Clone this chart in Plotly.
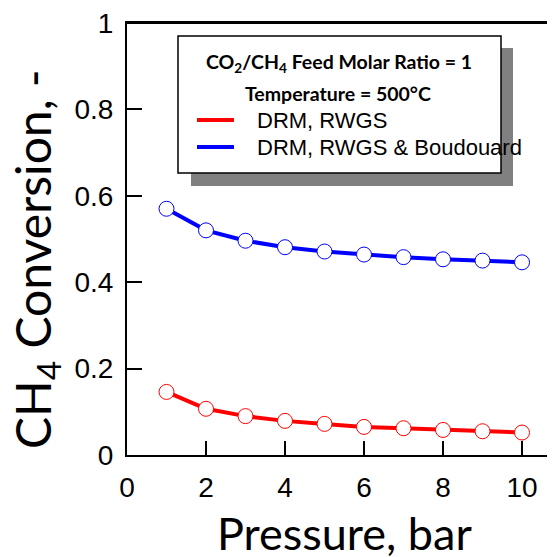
import plotly.graph_objects as go

# ---- data ----
pressure = [1, 2, 3, 4, 5, 6, 7, 8, 9, 10]
conv_drm_rwgs = [0.146, 0.107, 0.090, 0.079, 0.072, 0.065, 0.062, 0.058, 0.055, 0.052]
conv_drm_rwgs_boud = [0.570, 0.520, 0.496, 0.481, 0.471, 0.464, 0.458, 0.453, 0.450, 0.446]
x_ticks = [0, 2, 4, 6, 8, 10]
y_ticks = [0, 0.2, 0.4, 0.6, 0.8, 1]
y_ticktext = ["0", "0.2", "0.4", "0.6", "0.8", "1"]
series_names = ["DRM, RWGS", "DRM, RWGS & Boudouard"]
series_colors = ["#ff0000", "#0000ff"]

# page has an 8px body margin; figure sized to fit the window
OFF = 8
W, H = 555 - OFF, 557 - OFF
# plot area in page pixels: left 127, right 555, top 23, bottom 455
L, R, T, B = 127 - OFF, 0, 23 - OFF, H - (455 - OFF)
PW, PH = W - L - R, H - T - B


def px(xp):  # page pixel x -> paper
    return (xp - OFF - L) / PW


def py(yp):  # page pixel y -> paper
    return (H - B - (yp - OFF)) / PH


fig = go.Figure()
for vals, name, col in zip([conv_drm_rwgs, conv_drm_rwgs_boud], series_names, series_colors):
    fig.add_trace(go.Scatter(
        x=pressure, y=vals, name=name, mode="lines+markers",
        line=dict(color=col, width=4),
        marker=dict(symbol="circle", size=15, color="white", line=dict(color=col, width=1)),
        showlegend=False,
    ))

tick_font = dict(family="Liberation Sans, Arial", size=28, color="black")
fig.update_xaxes(
    range=[0, 10.835], tickvals=x_ticks, ticks="inside", ticklen=14, tickwidth=2,
    tickcolor="black", showline=True, linewidth=2, linecolor="black", mirror=True,
    showgrid=False, zeroline=False, tickfont=tick_font, ticklabelstandoff=6, automargin=False,
    ticklabeloverflow="allow",
)
fig.update_yaxes(
    range=[0, 1], tickvals=y_ticks, ticktext=y_ticktext, ticks="inside", ticklen=15, tickwidth=2,
    tickcolor="black", showline=True, linewidth=2, linecolor="black", mirror=False,
    showgrid=False, zeroline=False, tickfont=tick_font, ticklabelstandoff=6, automargin=False,
    ticklabeloverflow="allow",
)

shapes = [
    # top frame line of the plot area
    dict(type="line", xref="paper", yref="paper", x0=0, x1=1, y0=1, y1=1,
         line=dict(color="black", width=2), layer="above"),
    dict(type="rect", xref="paper", yref="paper", x0=px(191), x1=px(513), y0=py(186), y1=py(48),
         fillcolor="#808080", line=dict(width=0), layer="above"),
    dict(type="rect", xref="paper", yref="paper", x0=px(178), x1=px(501), y0=py(173), y1=py(36),
         fillcolor="white", line=dict(color="black", width=1.5), layer="above"),
]
annotations = [
    dict(text="<b>CO<sub>2</sub>/CH<sub>4</sub> Feed Molar Ratio = 1</b>", x=px(339), y=py(63),
         xref="paper", yref="paper", showarrow=False, xanchor="center", yanchor="middle",
         font=dict(family="Lato", size=19.5, color="black")),
    dict(text="<b>Temperature = 500°C</b>", x=px(338), y=py(93),
         xref="paper", yref="paper", showarrow=False, xanchor="center", yanchor="middle",
         font=dict(family="Lato", size=19.5, color="black")),
    dict(text="CH<sub>4</sub> Conversion, -", x=px(36), y=py(259), xref="paper", yref="paper",
         showarrow=False, textangle=-90, xanchor="center", yanchor="middle",
         font=dict(family="Lato", size=48, color="black")),
    dict(text="Pressure, bar", x=px(344), y=py(533), xref="paper", yref="paper",
         showarrow=False, xanchor="center", yanchor="middle",
         font=dict(family="Lato", size=45, color="black")),
]
for i, (name, col) in enumerate(zip(series_names, series_colors)):
    yy = py(120 + 27 * i)
    shapes.append(dict(type="line", xref="paper", yref="paper", x0=px(197), x1=px(234), y0=yy, y1=yy,
                       line=dict(color=col, width=4), layer="above"))
    annotations.append(dict(text=name, x=px(255), y=yy, xref="paper", yref="paper", showarrow=False,
                            xanchor="left", yanchor="middle",
                            font=dict(family="Liberation Sans, Arial", size=22, color="black")))

fig.update_layout(
    width=W, height=H, margin=dict(l=L, r=R, t=T, b=B, autoexpand=False),
    paper_bgcolor="white", plot_bgcolor="white",
    shapes=shapes, annotations=annotations,
)
fig.write_html("out.html")
